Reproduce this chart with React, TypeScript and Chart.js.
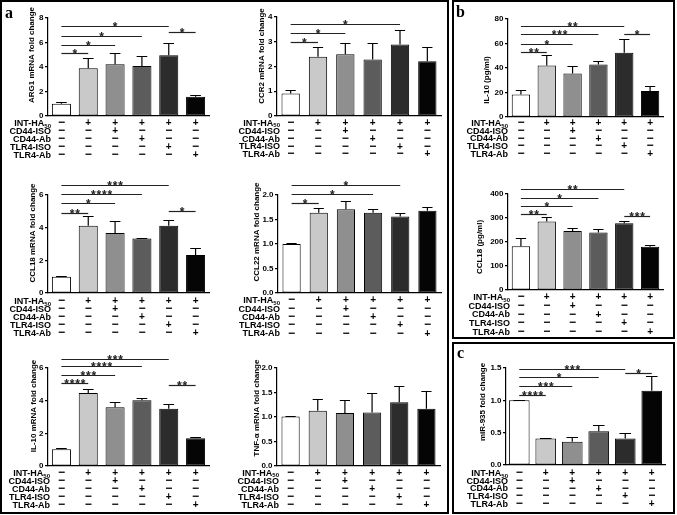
import React, { useEffect, useRef } from "react";
import { Chart, registerables } from "chart.js";
Chart.register(...registerables);

// ---------- data ----------
const categories = ["Control", "INT-HA50", "INT-HA50+CD44-ISO", "INT-HA50+CD44-Ab", "INT-HA50+TLR4-ISO", "INT-HA50+TLR4-Ab"];
const rowLabels = ["INT-HA", "CD44-ISO", "CD44-Ab", "TLR4-ISO", "TLR4-Ab"];
const rowSubs = ["50", "", "", "", ""];
const intHaSigns = ["−", "+", "+", "+", "+", "+"];
const cd44IsoSigns = ["−", "−", "+", "−", "−", "−"];
const cd44AbSigns = ["−", "−", "−", "+", "−", "−"];
const tlr4IsoSigns = ["−", "−", "−", "−", "+", "−"];
const tlr4AbSigns = ["−", "−", "−", "−", "−", "+"];
const signRows = [intHaSigns, cd44IsoSigns, cd44AbSigns, tlr4IsoSigns, tlr4AbSigns];

// brackets: [fromIndex, toIndex, level (data units), number of stars]
const arg1Mean = [1.0, 3.9, 4.22, 4.08, 4.95, 1.58];
const arg1Err = [0.15, 0.85, 0.9, 0.83, 1.03, 0.1];
const arg1Ticks = [0, 2, 4, 6, 8];
const arg1Brackets = [[0, 1, 5.14, 1], [0, 2, 5.8, 1], [0, 3, 6.56, 1], [0, 4, 7.32, 1], [4, 5, 6.83, 1]];

const ccr2Mean = [0.91, 2.39, 2.5, 2.28, 2.89, 2.21];
const ccr2Err = [0.13, 0.4, 0.45, 0.65, 0.57, 0.56];
const ccr2Ticks = [0, 1, 2, 3, 4];
const ccr2Brackets = [[0, 1, 2.97, 1], [0, 2, 3.36, 1], [0, 4, 3.73, 1]];

const ccl18mMean = [1.0, 4.12, 3.68, 3.33, 4.12, 2.33];
const ccl18mErr = [0.06, 0.57, 0.7, 0.04, 0.33, 0.42];
const ccl18mTicks = [0, 2, 4, 6];
const ccl18mBrackets = [[0, 1, 4.92, 2], [0, 2, 5.53, 1], [0, 3, 6.06, 4], [0, 4, 6.6, 3], [4, 5, 5.04, 1]];

const ccl22Mean = [1.0, 1.64, 1.71, 1.64, 1.56, 1.68];
const ccl22Err = [0.03, 0.1, 0.17, 0.08, 0.08, 0.07];
const ccl22Ticks = [0, 0.5, 1, 1.5, 2];
const ccl22Brackets = [[0, 1, 1.83, 1], [0, 3, 2.02, 1], [0, 4, 2.2, 1]];

const il10mMean = [1.02, 4.47, 3.6, 4.02, 3.5, 1.7];
const il10mErr = [0.1, 0.26, 0.3, 0.14, 0.29, 0.1];
const il10mTicks = [0, 2, 4, 6];
const il10mBrackets = [[0, 1, 5.08, 4], [0, 2, 5.59, 3], [0, 3, 6.1, 4], [0, 4, 6.56, 3], [4, 5, 4.94, 2]];

const tnfMean = [1.01, 1.13, 1.08, 1.09, 1.3, 1.17];
const tnfErr = [0.02, 0.24, 0.27, 0.41, 0.34, 0.37];
const tnfTicks = [0, 0.5, 1, 1.5, 2];
const tnfBrackets: number[][] = [];

const il10pMean = [18.3, 42, 35.5, 42.9, 52.5, 21.3];
const il10pErr = [4.1, 8.5, 6.5, 3, 11.2, 4.1];
const il10pTicks = [0, 20, 40, 60, 80];
const il10pBrackets = [[0, 1, 52.7, 2], [0, 2, 60, 1], [0, 3, 67.8, 3], [0, 4, 74.6, 2], [4, 5, 67.5, 1]];

const ccl18pMean = [182, 285, 246, 240, 278, 180];
const ccl18pErr = [33, 18, 11, 13, 9, 7];
const ccl18pTicks = [0, 100, 200, 300, 400];
const ccl18pBrackets = [[0, 1, 315, 2], [0, 2, 351, 1], [0, 3, 385, 1], [0, 4, 419, 2], [4, 5, 310, 3]];

const mirMean = [1.0, 0.41, 0.36, 0.52, 0.41, 1.15];
const mirErr = [0.01, 0.01, 0.07, 0.1, 0.08, 0.22];
const mirTicks = [0, 0.5, 1, 1.5];
const mirBrackets = [[0, 1, 1.09, 4], [0, 2, 1.22, 3], [0, 3, 1.36, 1], [0, 4, 1.48, 3], [4, 5, 1.42, 1]];

// ---------- styles ----------
const barFill = ["#ffffff", "#c9c9c9", "#8f8f8f", "#5c5c5c", "#2c2c2c", "#050505"];
const FONT = '"Liberation Sans", Arial, Helvetica, sans-serif';

type Spec = { title: string; mean: number[]; err: number[]; ticks: number[]; dec: number; brackets: number[][] };
type Lay = {
  box: number[]; area: number[]; title: number[];
  labelRight: number; rowStart: number; rowGap: number; barPct: number;
};

const charts: { spec: Spec; lay: Lay }[] = [
  {
    spec: { title: "ARG1 mRNA fold change", mean: arg1Mean, err: arg1Err, ticks: arg1Ticks, dec: 0, brackets: arg1Brackets },
    lay: { box: [4, 4, 224, 164], area: [48, 18, 209, 116], title: [32, 55], labelRight: 51, rowStart: 123, rowGap: 8, barPct: 0.71 },
  },
  {
    spec: { title: "CCR2 mRNA fold change", mean: ccr2Mean, err: ccr2Err, ticks: ccr2Ticks, dec: 0, brackets: ccr2Brackets },
    lay: { box: [232, 4, 214, 164], area: [277, 17, 441, 116], title: [262, 56], labelRight: 280, rowStart: 122.7, rowGap: 7.8, barPct: 0.67 },
  },
  {
    spec: { title: "CCL18 mRNA fold change", mean: ccl18mMean, err: ccl18mErr, ticks: ccl18mTicks, dec: 0, brackets: ccl18mBrackets },
    lay: { box: [4, 172, 224, 166], area: [48, 195, 209, 293], title: [33, 233], labelRight: 51, rowStart: 301, rowGap: 8, barPct: 0.71 },
  },
  {
    spec: { title: "CCL22 mRNA fold change", mean: ccl22Mean, err: ccl22Err, ticks: ccl22Ticks, dec: 1, brackets: ccl22Brackets },
    lay: { box: [232, 172, 214, 166], area: [278, 195, 441, 293], title: [257, 232], labelRight: 280, rowStart: 300, rowGap: 8.3, barPct: 0.67 },
  },
  {
    spec: { title: "IL-10 mRNA fold change", mean: il10mMean, err: il10mErr, ticks: il10mTicks, dec: 0, brackets: il10mBrackets },
    lay: { box: [4, 342, 224, 168], area: [48, 368, 209, 466], title: [34, 406], labelRight: 50, rowStart: 473, rowGap: 8, barPct: 0.71 },
  },
  {
    spec: { title: "TNF-α mRNA fold change", mean: tnfMean, err: tnfErr, ticks: tnfTicks, dec: 1, brackets: tnfBrackets },
    lay: { box: [232, 342, 214, 168], area: [277, 368, 440, 466], title: [257, 408], labelRight: 279, rowStart: 472.7, rowGap: 7.9, barPct: 0.67 },
  },
  {
    spec: { title: "IL-10 (pg/ml)", mean: il10pMean, err: il10pErr, ticks: il10pTicks, dec: 0, brackets: il10pBrackets },
    lay: { box: [462, 4, 210, 160], area: [508, 19, 663, 117], title: [487, 80], labelRight: 508, rowStart: 123, rowGap: 7.6, barPct: 0.71 },
  },
  {
    spec: { title: "CCL18 (pg/ml)", mean: ccl18pMean, err: ccl18pErr, ticks: ccl18pTicks, dec: 0, brackets: ccl18pBrackets },
    lay: { box: [462, 172, 210, 164], area: [508, 194, 663, 290], title: [480, 247], labelRight: 510, rowStart: 297, rowGap: 8.6, barPct: 0.71 },
  },
  {
    spec: { title: "miR-935 fold change", mean: mirMean, err: mirErr, ticks: mirTicks, dec: 1, brackets: mirBrackets },
    lay: { box: [462, 345, 210, 166], area: [506, 368, 665, 465], title: [483, 402], labelRight: 508, rowStart: 473, rowGap: 7.6, barPct: 0.78 },
  },
];

function BarPanel({ spec, lay }: { spec: Spec; lay: Lay }) {
  const ref = useRef<HTMLCanvasElement>(null);
  useEffect(() => {
    const canvas = ref.current;
    if (!canvas) return;
    const [bx, by, bw, bh] = lay.box;
    const [l, t, r, b] = lay.area;

    const annot = {
      id: "annot",
      afterDraw(chart: any) {
        const ctx: CanvasRenderingContext2D = chart.ctx;
        const xs = chart.scales.x;
        const ys = chart.scales.y;
        const meta = chart.getDatasetMeta(0);
        ctx.save();
        // error bars (upper only)
        ctx.strokeStyle = "#000";
        ctx.lineWidth = 1.2;
        spec.mean.forEach((m, i) => {
          const el = meta.data[i];
          const x = el.x;
          const w = el.width;
          const y0 = ys.getPixelForValue(m);
          const y1 = Math.round(ys.getPixelForValue(m + spec.err[i])) + 0.5;
          ctx.beginPath();
          ctx.moveTo(x, y0);
          ctx.lineTo(x, y1);
          ctx.moveTo(x - w * 0.28, y1);
          ctx.lineTo(x + w * 0.28, y1);
          ctx.stroke();
        });
        // significance brackets
        ctx.strokeStyle = "#222";
        ctx.fillStyle = "#222";
        ctx.lineWidth = 1.2;
        spec.brackets.forEach(([a, c, lvl, n]) => {
          const xa = xs.getPixelForValue(a);
          const xb = xs.getPixelForValue(c);
          const y = Math.round(ys.getPixelForValue(lvl)) + 0.5;
          ctx.beginPath();
          ctx.moveTo(xa, y);
          ctx.lineTo(xb, y);
          ctx.stroke();
          ctx.font = `bold 12px ${FONT}`;
          ctx.textAlign = "center";
          ctx.textBaseline = "alphabetic";
          const mid = (xa + xb) / 2;
          const step = 5.5;
          for (let k = 0; k < n; k++) {
            ctx.fillText("*", mid + (k - (n - 1) / 2) * step, y + 4);
          }
        });
        // treatment table
        ctx.fillStyle = "#000";
        ctx.textBaseline = "alphabetic";
        rowLabels.forEach((lab, ri) => {
          const y = lay.rowStart - by + ri * lay.rowGap;
          let right = lay.labelRight - bx;
          ctx.textAlign = "right";
          if (rowSubs[ri]) {
            ctx.font = `bold 6px ${FONT}`;
            const sw = ctx.measureText(rowSubs[ri]).width;
            ctx.fillText(rowSubs[ri], right, y + 4.5);
            right -= sw;
          }
          ctx.font = `bold 9px ${FONT}`;
          ctx.fillText(lab, right, y + 3.2);
          signRows[ri].forEach((s, i) => {
            const x = xs.getPixelForValue(i);
            ctx.textAlign = "center";
            ctx.font = s === "+" ? `bold 10px ${FONT}` : `bold 12px ${FONT}`;
            ctx.fillText(s, x, y + 3.4);
          });
        });
        // y title
        ctx.translate(lay.title[0] - bx, lay.title[1] - by);
        ctx.rotate(-Math.PI / 2);
        ctx.font = `bold 8px ${FONT}`;
        ctx.textAlign = "center";
        ctx.textBaseline = "middle";
        ctx.fillText(spec.title, 0, 0);
        ctx.restore();
      },
    };

    const chart = new Chart(canvas, {
      type: "bar",
      data: {
        labels: categories,
        datasets: [
          {
            data: spec.mean,
            backgroundColor: barFill,
            borderColor: "#000",
            borderWidth: 1,
            borderSkipped: false,
            barPercentage: lay.barPct,
            categoryPercentage: 1,
          },
        ],
      },
      options: {
        responsive: false,
        maintainAspectRatio: false,
        animation: false,
        events: [],
        layout: { padding: { left: 0, top: t - by, right: bx + bw - r, bottom: by + bh - b } },
        plugins: { legend: { display: false }, tooltip: { enabled: false }, title: { display: false } },
        scales: {
          x: {
            type: "category",
            offset: true,
            grid: { display: false },
            border: { display: true, color: "#000", width: 1.2 },
            ticks: { display: false },
            afterFit: (s: any) => {
              s.height = 0;
            },
          },
          y: {
            type: "linear",
            min: 0,
            max: spec.ticks[spec.ticks.length - 1],
            afterBuildTicks: (s: any) => {
              s.ticks = spec.ticks.map((v) => ({ value: v }));
            },
            afterFit: (s: any) => {
              s.width = l - bx;
            },
            grid: { display: true, drawOnChartArea: false, drawTicks: true, tickLength: 3, color: "#000", lineWidth: 1.2 },
            border: { display: true, color: "#000", width: 1.2 },
            ticks: {
              color: "#000",
              padding: 1.5,
              font: { family: FONT, size: 8, weight: "bold" },
              callback: (v: any) => Number(v).toFixed(spec.dec),
            },
          },
        },
      } as any,
      plugins: [annot],
    });
    return () => chart.destroy();
  }, []);
  const [bx, by, bw, bh] = lay.box;
  return (
    <canvas
      ref={ref}
      width={bw}
      height={bh}
      style={{ position: "absolute", left: bx, top: by, width: bw, height: bh }}
    />
  );
}

const letterStyle: React.CSSProperties = {
  position: "absolute",
  fontFamily: '"Liberation Serif", "Times New Roman", serif',
  fontWeight: "bold",
  fontSize: 16,
  lineHeight: "16px",
  color: "#000",
};

export default function App() {
  return (
    <div style={{ position: "absolute", left: 0, top: 0, width: 677, height: 515, background: "#fff", overflow: "hidden" }}>
      <div style={{ position: "absolute", left: 0, top: 0, width: 449, height: 514, boxSizing: "border-box", border: "2px solid #000" }} />
      <div style={{ position: "absolute", left: 452, top: 0, width: 223, height: 339, boxSizing: "border-box", border: "2px solid #000" }} />
      <div style={{ position: "absolute", left: 452, top: 342, width: 223, height: 172, boxSizing: "border-box", border: "2px solid #000" }} />
      {charts.map((c, i) => (
        <BarPanel key={i} spec={c.spec} lay={c.lay} />
      ))}
      <div style={{ ...letterStyle, left: 5, top: 5 }}>a</div>
      <div style={{ ...letterStyle, left: 456, top: 4 }}>b</div>
      <div style={{ ...letterStyle, left: 457, top: 345 }}>c</div>
    </div>
  );
}
